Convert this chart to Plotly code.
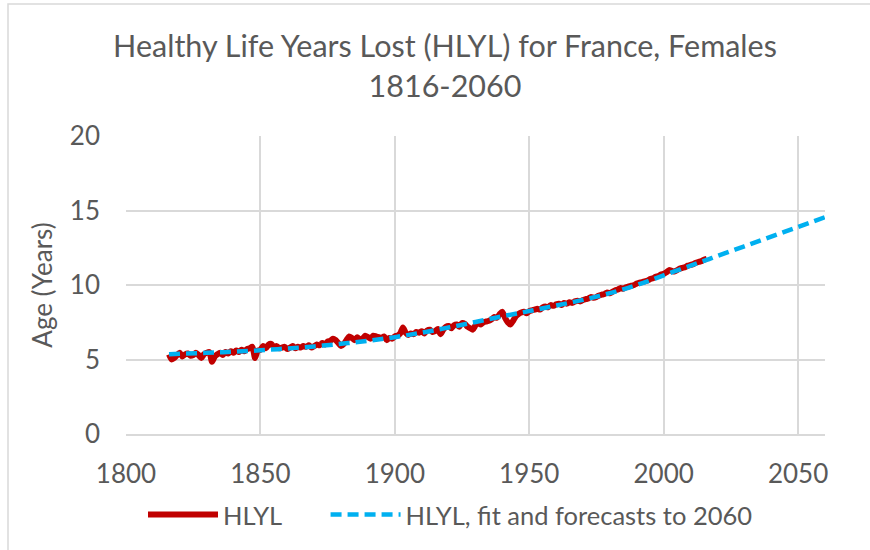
import plotly.graph_objects as go

# HLYL observed, yearly 1816-2016
hlyl_years = list(range(1816, 2017))
hlyl_values = [
    5.35, 5.0, 5.1, 5.3, 5.45, 5.2, 5.35, 5.4, 5.25, 5.3,
    5.45, 5.3, 5.1, 5.35, 5.45, 5.5, 4.85, 5.2, 5.35, 5.45,
    5.3, 5.5, 5.4, 5.55, 5.45, 5.6, 5.5, 5.65, 5.55, 5.7,
    5.75, 5.85, 5.1, 5.6, 5.65, 5.9, 5.75, 6.0, 6.05, 5.85,
    5.9, 5.75, 5.8, 5.85, 5.7, 5.8, 5.9, 5.75, 5.85, 5.8,
    5.9, 5.85, 5.95, 5.8, 5.9, 6.0, 5.95, 6.1, 6.0, 6.2,
    6.25, 6.4, 6.3, 6.1, 5.9, 6.05, 6.3, 6.55, 6.45, 6.3,
    6.5, 6.35, 6.4, 6.6, 6.5, 6.4, 6.6, 6.55, 6.5, 6.45,
    6.55, 6.3, 6.45, 6.4, 6.55, 6.6, 6.75, 7.15, 6.8, 6.65,
    6.75, 6.7, 6.85, 6.8, 6.9, 6.75, 6.95, 7.0, 6.85, 6.9,
    7.05, 6.7, 7.0, 7.2, 7.25, 7.1, 7.3, 7.35, 7.2, 7.45,
    7.4, 7.2, 7.1, 7.0, 7.3, 7.45, 7.35, 7.5, 7.55, 7.6,
    7.7, 7.85, 7.8, 8.05, 8.2, 7.8, 7.5, 7.35, 7.6, 7.9,
    8.05, 8.15, 8.2, 8.1, 8.25, 8.3, 8.35, 8.4, 8.35, 8.5,
    8.55, 8.5, 8.65, 8.6, 8.7, 8.75, 8.65, 8.8, 8.75, 8.85,
    8.8, 8.9, 8.95, 8.9, 9.0, 9.05, 9.1, 9.2, 9.15, 9.2,
    9.3, 9.35, 9.4, 9.5, 9.45, 9.55, 9.65, 9.7, 9.8, 9.75,
    9.85, 9.9, 9.95, 10.0, 10.1, 10.15, 10.2, 10.25, 10.3, 10.4,
    10.45, 10.55, 10.6, 10.7, 10.75, 10.85, 11.0, 10.95, 10.9, 11.0,
    11.1, 11.15, 11.2, 11.3, 11.35, 11.4, 11.5, 11.55, 11.6, 11.7, 11.75,
]

# Fit and forecasts to 2060
fit_years = [1816, 1820, 1830, 1840, 1850, 1860, 1870, 1880, 1890, 1900,
             1910, 1920, 1930, 1940, 1950, 1960, 1970, 1980, 1990, 2000,
             2010, 2016, 2020, 2030, 2040, 2050, 2060]
fit_values = [5.35, 5.38, 5.45, 5.52, 5.62, 5.74, 5.88, 6.05, 6.26, 6.5,
              6.8, 7.15, 7.52, 7.9, 8.25, 8.62, 9.0, 9.45, 10.0, 10.65,
              11.3, 11.68, 11.95, 12.6, 13.25, 13.9, 14.55]

series_names = ["HLYL", "HLYL, fit and forecasts to 2060"]
x_ticks = [1800, 1850, 1900, 1950, 2000, 2050]
y_ticks = [0, 5, 10, 15, 20]

FONT = "Lato, 'Liberation Sans', sans-serif"
GREY = "#595959"

fig = go.Figure()
fig.add_trace(go.Scatter(
    x=hlyl_years, y=hlyl_values, mode="lines",
    name=series_names[0] + "\u00a0" * 6,
    line=dict(color="#c00000", width=6, shape="spline", smoothing=0.6),
))
fig.add_trace(go.Scatter(
    x=fit_years, y=fit_values, mode="lines", name=series_names[1],
    line=dict(color="#00b0f0", width=4.5, dash="11px,6px", shape="spline"),
))

L, R, T, B = 126, 45, 136, 116
W, H = 870, 550
pw, ph = W - L - R, H - T - B

fig.update_layout(
    width=W, height=H,
    margin=dict(l=L, r=R, t=T, b=B),
    paper_bgcolor="white", plot_bgcolor="white",
    font=dict(family=FONT, color=GREY, size=26),
    title=dict(
        text="Healthy Life Years Lost (HLYL) for France, Females<br>1816-2060",
        x=445 / W, xanchor="center",
        y=1 - 57 / H, yanchor="top",
        font=dict(family=FONT, size=30.5, color=GREY),
    ),
    xaxis=dict(
        range=[1800, 2060], tickvals=x_ticks, showgrid=True, gridcolor="#d9d9d9",
        gridwidth=1.5, showline=True, linecolor="#d9d9d9", linewidth=1.5,
        zeroline=False, ticks="", ticklabelstandoff=16,
        tickfont=dict(size=26, color=GREY),
    ),
    yaxis=dict(
        range=[0, 20], tickvals=y_ticks, showgrid=True, gridcolor="#d9d9d9",
        gridwidth=1.5, zeroline=False, ticks="", ticklabelstandoff=25,
        tickfont=dict(size=26, color=GREY),
        title=dict(text="Age (Years)", font=dict(size=26, color=GREY), standoff=9),
    ),
    legend=dict(
        orientation="h", x=(143 - L) / pw, xanchor="left",
        y=(H - B - 515) / ph, yanchor="middle",
        font=dict(size=25.5, color=GREY), itemwidth=70, bgcolor="rgba(0,0,0,0)",
    ),
    shapes=[dict(
        type="rect", xref="paper", yref="paper",
        x0=(8 - L) / pw, x1=(880 - L) / pw,
        y0=(H - B - 560) / ph, y1=(H - B - 4) / ph,
        line=dict(color="#d9d9d9", width=1.5), fillcolor="rgba(0,0,0,0)", layer="below",
    )],
)

fig.write_html("out.html", config={"displayModeBar": False},
               post_script="document.body.style.margin='0px';")
